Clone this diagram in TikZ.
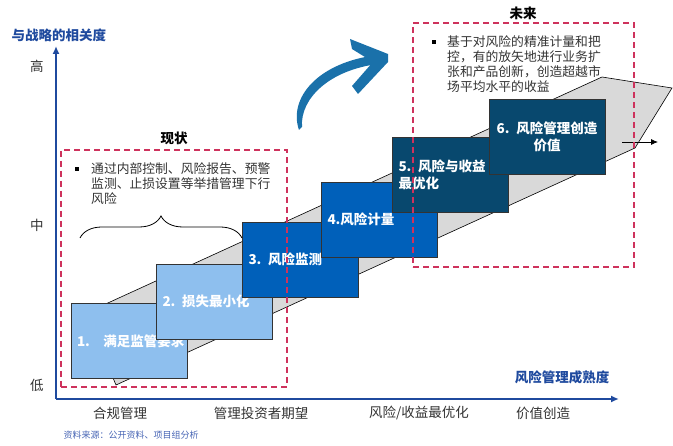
\documentclass[tikz,border=0pt]{standalone}
\usepackage{fontspec}
\setmainfont{Noto Sans CJK SC}
\usepackage{tikz}
\usetikzlibrary{arrows.meta, decorations.pathreplacing}
\definecolor{axisblue}{RGB}{31,74,158}
\definecolor{lightstep}{RGB}{142,191,238}
\definecolor{midstep}{RGB}{0,96,186}
\definecolor{darkstep}{RGB}{8,72,110}
\definecolor{dashred}{RGB}{206,50,92}
\definecolor{bandgray}{RGB}{217,217,217}
\definecolor{swoosh}{RGB}{26,113,170}
\definecolor{srcblue}{RGB}{70,100,180}

\begin{document}
\begin{tikzpicture}[x=1pt, y=-1pt,
    stepbox/.style = {draw=black!80, line width=0.8pt, minimum width=116pt, minimum height=75pt, inner sep=6pt, text width=104pt, align=left, text=white, font=\fontsize{13.5}{17}\selectfont\bfseries},
    zone/.style = {draw=dashred, dash pattern=on 6pt off 4pt, line width=1.5pt},
    tick/.style = {font=\fontsize{13.5}{16}\selectfont, text=black!80},
    title/.style = {font=\fontsize{13.5}{16}\selectfont\bfseries, text=axisblue},
    note/.style = {anchor=north west, align=left, inner sep=0pt, font=\fontsize{12.8}{15}\selectfont, text=black!80},
    bullet/.style = {fill=black, minimum size=3.5pt, inner sep=0pt},
    axis/.style = {draw=axisblue, line width=2pt, -{Latex[length=8pt,width=7pt]}}]
    \useasboundingbox (0,0) rectangle (673,446);

    \draw[fill=bandgray, line width=0.6pt] (116,385) -- (86,313) -- (602,77) -- (672,88) -- (635,148) -- cycle;
    \coordinate (outA) at (622,142);
    \coordinate (outB) at (658,142);
    \draw[-{Latex[length=7pt,width=6pt]}, line width=0.8pt] (outA) -- (outB);

    \node[stepbox, fill=lightstep] (S1) at (129,341) {\mbox{1.\quad{}满足监管要求}};
    \node[stepbox, fill=lightstep] (S2) at (214.5,301.5) {2. 损失最小化};
    \node[stepbox, fill=midstep] (S3) at (300.5,259.5) {3. 风险监测};
    \node[stepbox, fill=midstep] (S4) at (379.5,219.5) {4.风险计量};
    \node[stepbox, fill=darkstep] (S5) at (450.5,175) {5. 风险与收益\\最优化};
    \node[stepbox, fill=darkstep, align=center] (S6) at (547,136.5) {6. 风险管理创造\\价值};

    \node[zone, minimum width=226pt, minimum height=237pt] (now) at (174,268.5) {};
    \node[zone, minimum width=221pt, minimum height=244pt] (future) at (523.5,145) {};
    \node[font=\fontsize{13.5}{16}\selectfont\bfseries] (nowlabel) at (174,138) {现状};
    \node[font=\fontsize{13.5}{16}\selectfont\bfseries] (futurelabel) at (523,13) {未来};

    \node[bullet] (b1) at (77,169) {};
    \node[note] (nowtext) at (91,162) {通过内部控制、风险报告、预警\\监测、止损设置等举措管理下行\\风险};
    \node[bullet] (b2) at (434,42) {};
    \node[note] (futuretext) at (447,35) {基于对风险的精准计量和把\\控，有的放矢地进行业务扩\\张和产品创新，创造超越市\\场平均水平的收益};

    \coordinate (braceL) at (80,238);
    \coordinate (braceR) at (242,238);
    \draw[decorate, decoration={brace, amplitude=22pt}, line width=0.8pt] (braceL) -- (braceR);

    \fill[swoosh] (299,130) .. controls (288,98) and (318,62) .. (378,55) -- (378,64) .. controls (330,70) and (300,98) .. (302,127) -- cycle;
    \fill[swoosh] (350,39) -- (388,54) -- (388,62) -- (358,94) -- (352,86) -- (373,62) -- (352,49) -- cycle;

    \coordinate (O) at (56,399);
    \coordinate (ytop) at (56,46);
    \coordinate (xend) at (619,399);
    \draw[axis] (O) -- (ytop);
    \draw[axis] (O) -- (xend);

    \node[title, anchor=west] (ytitle) at (8,35) {与战略的相关度};
    \node[title] (xtitle) at (562,377) {风险管理成熟度};
    \node[tick] (high) at (37,66) {高};
    \node[tick] (middle) at (37,225) {中};
    \node[tick] (low) at (37,385) {低};
    \node[tick] (t1) at (120,413) {合规管理};
    \node[tick] (t2) at (261,413) {管理投资者期望};
    \node[tick] (t3) at (419,413) {风险/收益最优化};
    \node[tick] (t4) at (543,413) {价值创造};
    \node[anchor=west, font=\fontsize{9}{10}\selectfont, text=srcblue] (source) at (60,435) {资料来源：公开资料、项目组分析};
\end{tikzpicture}
\end{document}
